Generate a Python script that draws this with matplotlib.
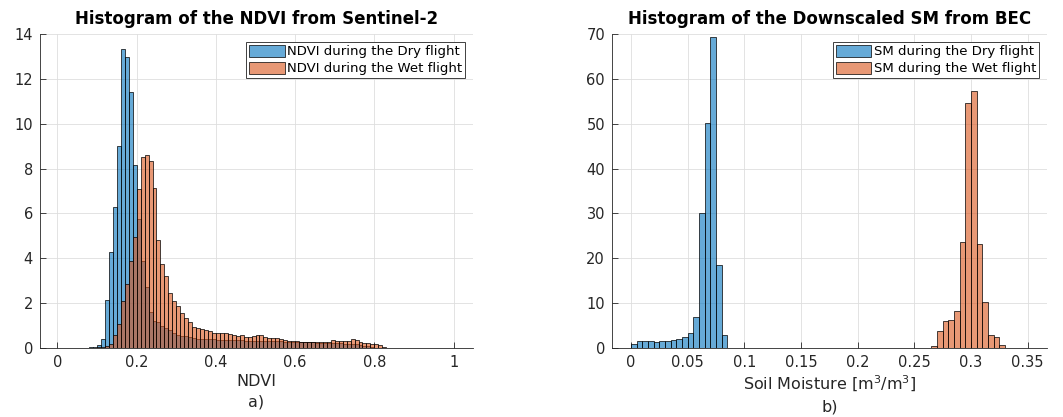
import numpy as np
import matplotlib.pyplot as plt

# NDVI histograms (pdf normalised), bins of 0.01 starting at 0.07
ndvi_bin_start = 0.07
ndvi_bin_width = 0.01
ndvi_dry = [0.01, 0.03, 0.05, 0.15, 0.42, 2.14, 4.26, 6.30, 8.99, 13.33,
            12.96, 11.41, 8.14, 5.75, 3.88, 2.70, 1.60, 1.20, 1.15, 1.00,
            0.88, 0.80, 0.68, 0.60, 0.55, 0.52, 0.47, 0.43, 0.42, 0.41,
            0.40, 0.38, 0.38, 0.37, 0.36, 0.36, 0.35, 0.35, 0.34, 0.34,
            0.33, 0.33, 0.32, 0.32, 0.31, 0.31, 0.30, 0.30, 0.29, 0.29,
            0.28, 0.28, 0.27, 0.27, 0.26, 0.26, 0.25, 0.25, 0.24, 0.24,
            0.23, 0.23, 0.22, 0.22, 0.21, 0.20, 0.19, 0.18, 0.16, 0.13,
            0.10, 0.07, 0.04, 0.02, 0.01, 0.0, 0.0, 0.0]
ndvi_wet = [0.0, 0.0, 0.01, 0.03, 0.05, 0.10, 0.20, 0.58, 1.07, 2.11,
            2.85, 3.88, 4.96, 7.07, 8.53, 8.59, 8.35, 7.12, 4.80, 3.73,
            3.21, 2.47, 2.08, 1.89, 1.55, 1.32, 1.16, 0.95, 0.90, 0.83,
            0.79, 0.78, 0.67, 0.65, 0.65, 0.65, 0.61, 0.56, 0.52, 0.58,
            0.49, 0.49, 0.52, 0.58, 0.56, 0.49, 0.45, 0.45, 0.43, 0.41,
            0.35, 0.30, 0.30, 0.29, 0.26, 0.26, 0.26, 0.26, 0.25, 0.25,
            0.26, 0.27, 0.34, 0.33, 0.33, 0.33, 0.33, 0.40, 0.36, 0.28,
            0.24, 0.24, 0.20, 0.18, 0.12, 0.06, 0.02, 0.0]

# Soil moisture histograms, bins of 0.005
sm_bin_width = 0.005
sm_dry_start = 0.0
sm_dry = [0.9, 1.5, 1.6, 1.5, 1.3, 1.6, 1.55, 1.8, 2.0, 2.4,
          3.3, 6.85, 30.2, 50.1, 69.4, 18.4, 2.9]
sm_wet_start = 0.265
sm_wet = [0.35, 3.9, 5.95, 6.2, 8.2, 23.55, 54.7, 57.2, 23.1, 10.2,
          3.0, 2.45, 0.75]

blue = (0.0, 0.447, 0.741, 0.6)
orange = (0.85, 0.325, 0.098, 0.6)
dark = (0.15, 0.15, 0.15)


def bin_left(start, width, n):
    return np.round(start + width * np.arange(n), 4)


def style(ax):
    ax.grid(True, color=(0.87, 0.87, 0.87), linewidth=0.6)
    ax.set_axisbelow(True)
    for s in ['top', 'right']:
        ax.spines[s].set_visible(False)
    for s in ['left', 'bottom']:
        ax.spines[s].set_color(dark)
        ax.spines[s].set_linewidth(0.6)
    ax.tick_params(direction='in', length=4, width=0.6, colors=dark,
                   labelsize=10.5, pad=5)


fig = plt.figure(figsize=(10.63, 4.17), dpi=100)
ax1 = fig.add_axes([40 / 1063, 69 / 417, 433 / 1063, 314 / 417])
ax2 = fig.add_axes([612 / 1063, 69 / 417, 435 / 1063, 314 / 417])

# left panel
x_dry = bin_left(ndvi_bin_start, ndvi_bin_width, len(ndvi_dry))
x_wet = bin_left(ndvi_bin_start, ndvi_bin_width, len(ndvi_wet))
ax1.bar(x_dry, ndvi_dry, width=ndvi_bin_width, align='edge', facecolor=blue,
        edgecolor='black', linewidth=0.5, label='NDVI during the Dry flight')
ax1.bar(x_wet, ndvi_wet, width=ndvi_bin_width, align='edge', facecolor=orange,
        edgecolor='black', linewidth=0.5, label='NDVI during the Wet flight')
ax1.set_xlim(-0.044, 1.049)
ax1.set_ylim(0, 14)
ax1.set_xticks([0, 0.2, 0.4, 0.6, 0.8, 1])
ax1.set_xticklabels(['0', '0.2', '0.4', '0.6', '0.8', '1'])
ax1.set_yticks(range(0, 15, 2))
style(ax1)
ax1.set_title('Histogram of the NDVI from Sentinel-2', fontsize=12,
              fontweight='bold', pad=7)
ax1.set_xlabel('NDVI\na)', fontsize=11.5, color=dark, labelpad=3,
               linespacing=1.45)

# right panel
x_sd = bin_left(sm_dry_start, sm_bin_width, len(sm_dry))
x_sw = bin_left(sm_wet_start, sm_bin_width, len(sm_wet))
ax2.bar(x_sd, sm_dry, width=sm_bin_width, align='edge', facecolor=blue,
        edgecolor='black', linewidth=0.5, label='SM during the Dry flight')
ax2.bar(x_sw, sm_wet, width=sm_bin_width, align='edge', facecolor=orange,
        edgecolor='black', linewidth=0.5, label='SM during the Wet flight')
ax2.set_xlim(-0.0168, 0.367)
ax2.set_ylim(0, 70)
ax2.set_xticks([0, 0.05, 0.1, 0.15, 0.2, 0.25, 0.3, 0.35])
ax2.set_xticklabels(['0', '0.05', '0.1', '0.15', '0.2', '0.25', '0.3', '0.35'])
ax2.set_yticks(range(0, 71, 10))
style(ax2)
ax2.set_title('Histogram of the Downscaled SM from BEC', fontsize=12,
              fontweight='bold', pad=7)
ax2.set_xlabel('Soil Moisture [m$^3$/m$^3$]\nb)', fontsize=11.5, color=dark,
               labelpad=3, linespacing=1.45)

for ax in (ax1, ax2):
    leg = ax.legend(loc='upper right', fontsize=9.5, fancybox=False,
                    edgecolor='#404040', framealpha=1, borderpad=0.2,
                    labelspacing=0.25, handlelength=2.7, handleheight=1.1,
                    handletextpad=0.2, borderaxespad=0.6)
    leg.get_frame().set_linewidth(0.7)

fig.savefig('out.png', dpi=100)
